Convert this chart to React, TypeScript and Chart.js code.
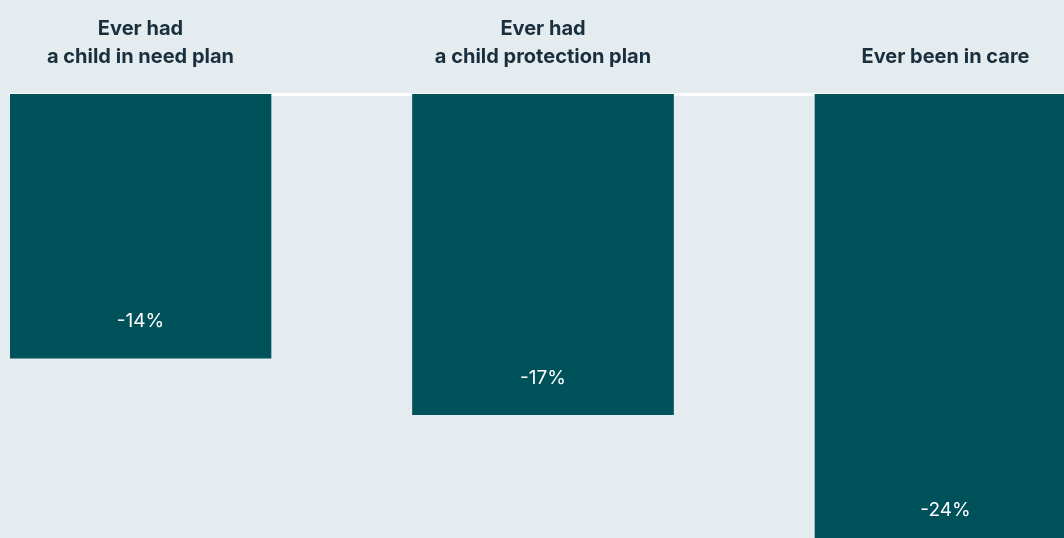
import React, { useEffect, useRef } from "react";
import { Chart, registerables } from "chart.js";

Chart.register(...registerables);

const categories: string[][] = [
  ["Ever had", "a child in need plan"],
  ["Ever had", "a child protection plan"],
  ["Ever been in care"],
];
const positions: number[] = [0, 1, 2];
const values: number[] = [-14, -17, -24];
const valueLabels: string[] = ["-14%", "-17%", "-24%"];

const BG = "#e4ecf0";
const BAR = "#00525a";
const TEXT = "#192f3d";

const valueLabelPlugin = {
  id: "valueLabels",
  afterDatasetsDraw(chart: any) {
    const ctx = chart.ctx;
    const meta = chart.getDatasetMeta(0);
    ctx.save();
    ctx.fillStyle = "#ffffff";
    ctx.font = "400 19px Inter, 'Liberation Sans', sans-serif";
    ctx.textAlign = "center";
    ctx.textBaseline = "middle";
    meta.data.forEach((el: any, i: number) => {
      ctx.fillText(valueLabels[i], el.x, el.y - 37);
    });
    ctx.restore();
  },
};

export default function App() {
  const ref = useRef<HTMLCanvasElement | null>(null);
  useEffect(() => {
    document.body.style.margin = "0";
    document.body.style.background = BG;
    const chart = new Chart(ref.current as HTMLCanvasElement, {
      type: "bar",
      data: {
        datasets: [
          {
            data: positions.map((p, i) => ({ x: p, y: values[i] })),
            backgroundColor: BAR,
            barThickness: 261,
            borderWidth: 0,
          },
        ],
      },
      options: {
        animation: false,
        responsive: false,
        layout: { padding: { top: 13, left: 10, right: 0, bottom: 0 } },
        plugins: { legend: { display: false }, tooltip: { enabled: false } },
        scales: {
          x: {
            type: "linear",
            position: "top",
            offset: false,
            min: -0.3242,
            max: 2.2944,
            afterBuildTicks: (scale: any) => {
              scale.ticks = positions.map((v) => ({ value: v }));
            },
            afterFit: (scale: any) => {
              scale.height = 81;
            },
            grid: { display: false, drawTicks: false },
            border: { display: true, color: "#ffffff", width: 3 },
            ticks: {
              autoSkip: false,
              maxRotation: 0,
              padding: 23,
              color: TEXT,
              font: { family: "Inter, 'Liberation Sans', sans-serif", size: 20, weight: "bold", lineHeight: 28 / 20 },
              callback: (v: any) => categories[Math.round(Number(v))] ?? "",
            },
          },
          y: {
            display: false,
            min: -23.53,
            max: 0,
          },
        },
      },
      plugins: [valueLabelPlugin],
    } as any);
    return () => chart.destroy();
  }, []);
  return (
    <div style={{ position: "fixed", left: 0, top: 0, width: 1064, height: 538, background: BG }}>
      <canvas ref={ref} width={1064} height={538} />
    </div>
  );
}
